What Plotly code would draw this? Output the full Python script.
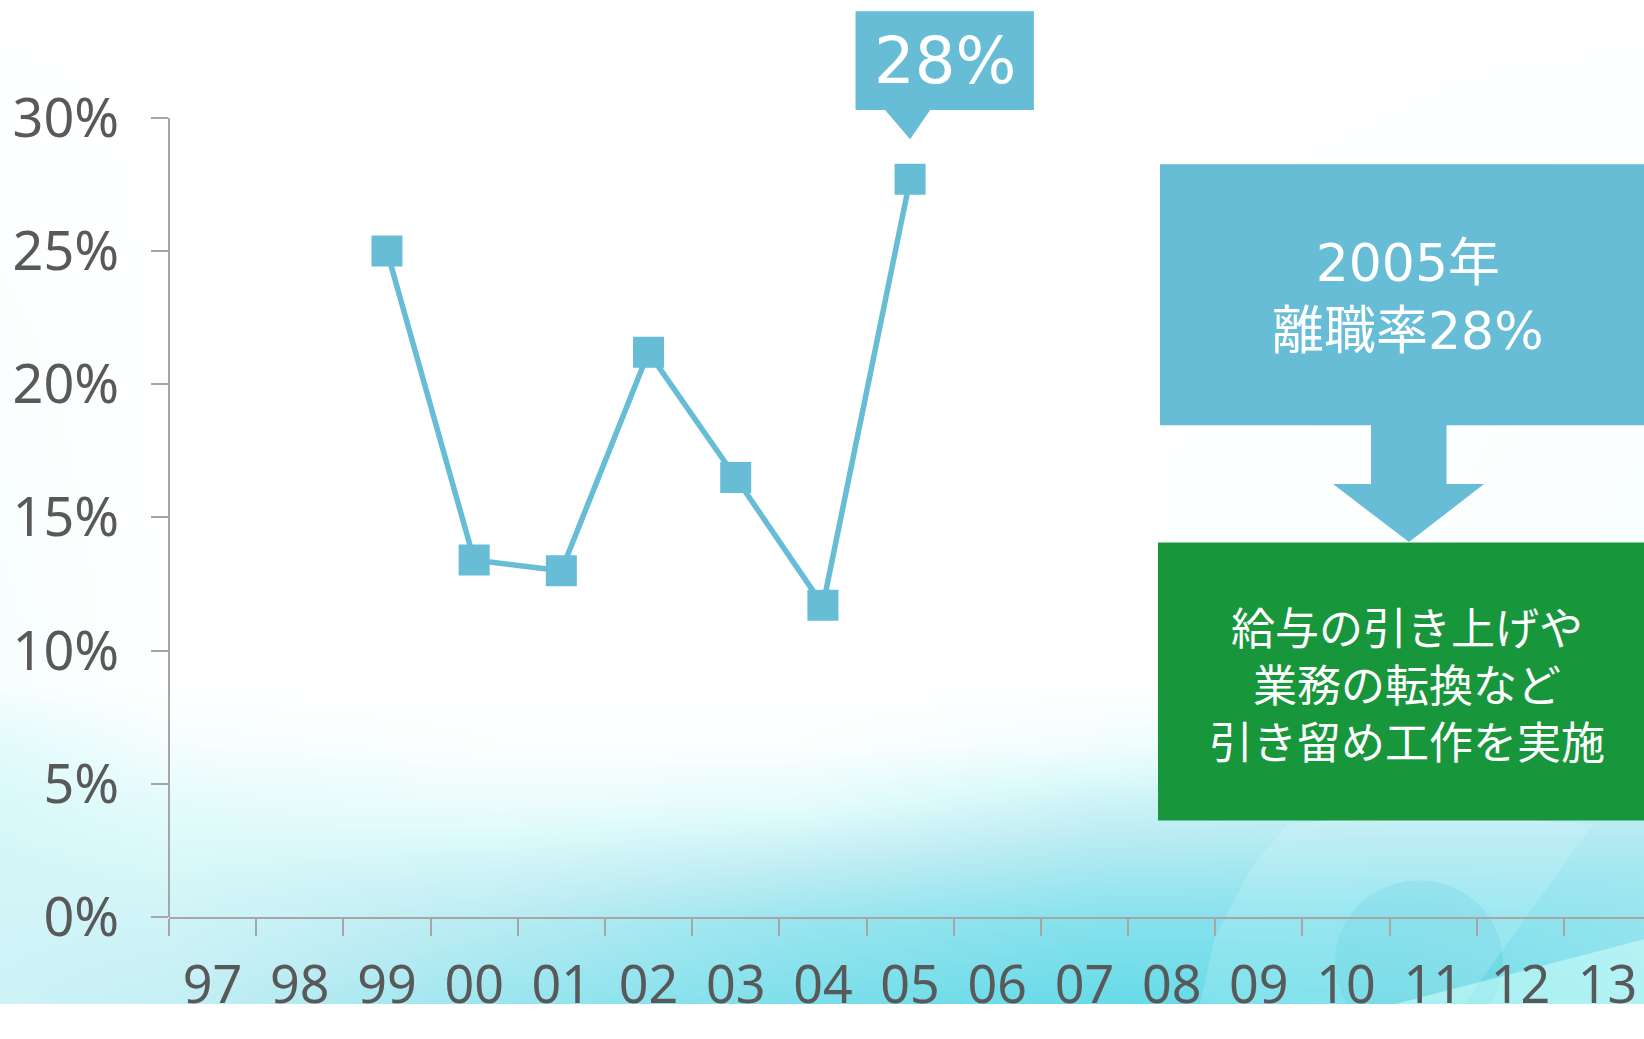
import math
import plotly.graph_objects as go

# ---------------- data ----------------
years = ["97", "98", "99", "00", "01", "02", "03", "04", "05", "06",
         "07", "08", "09", "10", "11", "12", "13"]
data_years = ["99", "00", "01", "02", "03", "04", "05"]
turnover = [25.0, 13.4, 13.0, 21.2, 16.5, 11.7, 27.7]   # %
y_ticks = [0, 5, 10, 15, 20, 25, 30]
y_ticktext = ["0%", "5%", "10%", "15%", "20%", "25%", "30%"]
callout_label = "28%"
panel_title = "2005年<br>離職率28%"
panel_action = "給与の引き上げや<br>業務の転換など<br>引き留め工作を実施"

# background gradient (decoration): pixel grid + intensity
bg_x = [-300, 0, 170, 500, 800, 1100, 1400, 1644, 1944]
bg_y = [-300, 0, 710, 770, 830, 890, 955, 1039, 1339]
bg_z = [
    [0.00, 0.00, 0.00, 0.00, 0.00, 0.00, 0.00, 0.00, 0.00],
    [0.00, 0.00, 0.00, 0.00, 0.00, 0.00, 0.00, 0.00, 0.00],
    [0.05, 0.05, 0.00, 0.00, 0.00, 0.00, 0.02, 0.05, 0.05],
    [0.17, 0.17, 0.06, 0.02, 0.02, 0.08, 0.15, 0.20, 0.20],
    [0.23, 0.23, 0.16, 0.11, 0.15, 0.30, 0.35, 0.35, 0.35],
    [0.26, 0.26, 0.23, 0.27, 0.36, 0.48, 0.50, 0.50, 0.50],
    [0.28, 0.28, 0.29, 0.42, 0.58, 0.68, 0.68, 0.60, 0.60],
    [0.30, 0.30, 0.35, 0.57, 0.73, 0.84, 0.80, 0.65, 0.65],
    [0.30, 0.30, 0.35, 0.57, 0.73, 0.84, 0.80, 0.65, 0.65],
]

# ---------------- styling ----------------
W, H = 1644, 1039
BLUE = "#67BCD6"
GREEN = "#18963B"
AXIS = "#A6A6A6"
TXT = "#595959"
TICKFONT = "Noto Sans, DejaVu Sans, sans-serif"
FONT = "DejaVu Sans, Noto Sans CJK JP, sans-serif"
CJK = "Noto Sans CJK JP, DejaVu Sans, sans-serif"

def px(x):
    return x / W

def py(y):
    return 1 - y / H

fig = go.Figure()

# background subplot (x / y) drawn first, beneath the chart
fig.add_trace(go.Heatmap(
    x=bg_x, y=bg_y, z=bg_z, zsmooth="best", showscale=False, hoverinfo="skip",
    zmin=0, zmax=1,
    colorscale=[[0.0, "#FFFFFF"], [0.2, "rgb(222,250,250)"], [0.4, "rgb(188,236,243)"],
                [0.6, "rgb(148,228,238)"], [0.8, "rgb(110,220,233)"], [1.0, "rgb(85,212,228)"]],
    xaxis="x", yaxis="y"))

# subtle swooshes bottom-right
blob_x = [1419 + 84 * math.cos(t / 40 * 2 * math.pi) for t in range(41)]
blob_y = [995 + 84 * math.sin(t / 40 * 2 * math.pi) for t in range(41)]
fig.add_trace(go.Scatter(x=blob_x, y=blob_y, fill="toself", mode="none",
                         fillcolor="rgba(60,190,212,0.22)", hoverinfo="skip",
                         showlegend=False, xaxis="x", yaxis="y"))
fig.add_trace(go.Scatter(x=[1287, 1250, 1215, 1200, 1464, 1593, 1420],
                         y=[853, 900, 970, 1039, 1039, 853, 840],
                         fill="toself", mode="none", fillcolor="rgba(235,255,255,0.18)",
                         hoverinfo="skip", showlegend=False, xaxis="x", yaxis="y"))
fig.add_trace(go.Scatter(x=[1644, 1395, 1644], y=[972, 1039, 1039],
                         fill="toself", mode="none", fillcolor="rgba(210,255,250,0.55)",
                         hoverinfo="skip", showlegend=False, xaxis="x", yaxis="y"))

# main line
fig.add_trace(go.Scatter(
    x=data_years, y=turnover, mode="lines+markers",
    line=dict(color=BLUE, width=5.5),
    marker=dict(symbol="square", size=29, color=BLUE, line=dict(color=BLUE, width=2)),
    showlegend=False, xaxis="x2", yaxis="y2"))

Y_PX0, Y_PX30 = 949, 122
per_pct = (Y_PX0 - Y_PX30) / 30.0
ymax = Y_PX0 / per_pct
x_left = 169
cat_w = (1564 - 169) / 16.0
xmax = -0.5 + (W - x_left) / cat_w

fig.update_layout(
    width=W, height=H, autosize=False, margin=dict(l=0, r=0, t=0, b=0),
    paper_bgcolor="white", plot_bgcolor="rgba(0,0,0,0)",
    showlegend=False,
    xaxis=dict(domain=[0, 1], range=[0, W], visible=False, fixedrange=True),
    yaxis=dict(domain=[0, 1], range=[H, 0], visible=False, fixedrange=True),
    xaxis2=dict(domain=[x_left / W, 1], anchor="y2", type="category",
                categoryorder="array", categoryarray=years, range=[-0.5, xmax],
                showline=True, linecolor=AXIS, linewidth=2,
                ticks="outside", ticklen=17, tickwidth=2, tickcolor=AXIS,
                tickson="boundaries", showgrid=False, zeroline=False,
                tickfont=dict(family=TICKFONT, size=52, color=TXT),
                ticklabelstandoff=22),
    yaxis2=dict(domain=[(H - Y_PX0) / H, 1], anchor="x2", range=[0, ymax],
                tickvals=y_ticks, ticktext=y_ticktext,
                showline=False, ticks="outside", ticklen=17, tickwidth=2, tickcolor=AXIS,
                showgrid=False, zeroline=False,
                tickfont=dict(family=TICKFONT, size=54, color=TXT),
                ticklabelstandoff=21),
)

# y-axis line from 0% to 30%
fig.add_shape(type="line", xref="x2 domain", yref="y2", x0=0, x1=0,
              y0=y_ticks[0], y1=y_ticks[-1], line=dict(color=AXIS, width=2))

# callout over the peak
pk = max(range(len(turnover)), key=lambda i: turnover[i])
pk_x = years.index(data_years[pk])
pk_y = turnover[pk]
bx0, bx1 = pk_x - 0.626, pk_x + 1.42
by0, by1 = pk_y + 2.6, pk_y + 6.3
tip_y = pk_y + 1.5
path = (f"M {bx0},{by1} L {bx1},{by1} L {bx1},{by0} L {pk_x + 0.23},{by0} "
        f"L {pk_x},{tip_y} L {pk_x - 0.287},{by0} L {bx0},{by0} Z")
fig.add_shape(type="path", xref="x2", yref="y2", path=path,
              fillcolor=BLUE, line=dict(width=0))
fig.add_annotation(x=(bx0 + bx1) / 2, y=(by0 + by1) / 2, xref="x2", yref="y2",
                   xanchor="center", yanchor="middle",
                   text=callout_label, showarrow=False,
                   font=dict(family=FONT, size=64, color="white"))

# right panel: blue box, arrow, green box
fig.add_shape(type="rect", xref="paper", yref="paper",
              x0=px(1160), x1=px(1660), y0=py(440), y1=py(170),
              fillcolor=BLUE, line=dict(width=0))
arrow = (f"M {px(1371)},{py(439)} L {px(1446.5)},{py(439)} L {px(1446.5)},{py(501)} "
         f"L {px(1484)},{py(501)} L {px(1409)},{py(561)} L {px(1333)},{py(501)} "
         f"L {px(1371)},{py(501)} Z")
fig.add_shape(type="path", xref="paper", yref="paper", path=arrow,
              fillcolor=BLUE, line=dict(width=0))
fig.add_shape(type="rect", xref="paper", yref="paper",
              x0=px(1158), x1=px(1660), y0=py(849), y1=py(561.5),
              fillcolor=GREEN, line=dict(width=0))
fig.add_annotation(x=px(1408), y=py(307), xref="paper", yref="paper",
                   xanchor="center", yanchor="middle",
                   text=panel_title, showarrow=False, align="center",
                   font=dict(family=FONT, size=52, color="white"))
fig.add_annotation(x=px(1407), y=py(707), xref="paper", yref="paper",
                   xanchor="center", yanchor="middle",
                   text=panel_action, showarrow=False, align="center",
                   font=dict(family=CJK, size=44, color="white"))

fig.write_html("out.html",
               config={"responsive": False, "displayModeBar": False},
               post_script="document.body.style.margin='0';document.body.style.padding='0';")
